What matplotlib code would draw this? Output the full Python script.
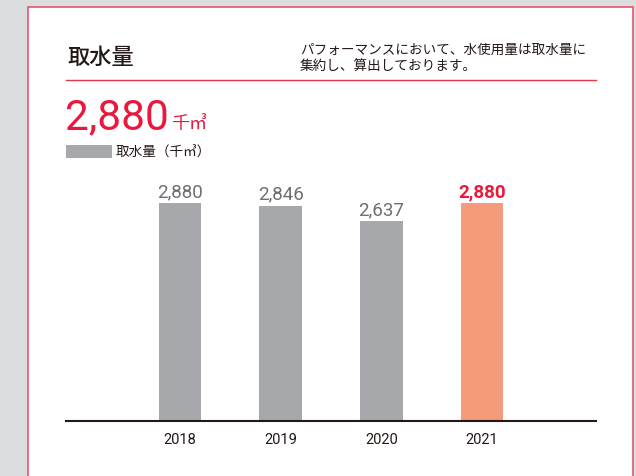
import matplotlib.pyplot as plt
from matplotlib.patches import Rectangle
from matplotlib.lines import Line2D

# data
years = ['2018', '2019', '2020', '2021']
intake = [2880, 2846, 2637, 2880]
headline = '2,880'
unit = '千㎥'
title = '取水量'
note = 'パフォーマンスにおいて、水使用量は取水量に\n集約し、算出しております。'
legend_label = '取水量（千㎥）'

jp = ['Noto Sans CJK JP', 'DejaVu Sans']
num = ['Roboto', 'DejaVu Sans']
red = '#e8193c'
gray_bar = '#a7a8ac'
orange_bar = '#f59a7a'
dark = '#231815'

W, H = 636, 477
fig = plt.figure(figsize=(W / 100, H / 100), dpi=100)
fig.patch.set_facecolor('#dcdddf')


def px(x, y):
    return x / W, 1 - y / H


# white card with pink border
fig.add_artist(Rectangle(px(28, 490), (633 - 28) / W, (490 - 8) / H,
                         transform=fig.transFigure, facecolor='white',
                         edgecolor='#e8566e', lw=1.2, zorder=0))

# header
fig.text(*px(67, 57), title, family=jp, fontsize=16, fontweight='medium',
         color=dark, va='center', ha='left')
fig.text(*px(300, 58), note, family=jp, fontsize=9.8, color=dark,
         va='center', ha='left', linespacing=1.25)
fig.add_artist(Line2D([66 / W, 596 / W], [1 - 81 / H] * 2,
                      transform=fig.transFigure, color='#e0364f', lw=1))

# headline figure
fig.text(*px(65, 129), headline, family=num, fontsize=30.5, color=red,
         va='baseline', ha='left')
fig.text(*px(171, 129), unit, family=jp, fontsize=13, color=red,
         va='baseline', ha='left')

# legend
fig.add_artist(Rectangle(px(66, 159), 46 / W, 13 / H,
                         transform=fig.transFigure, facecolor=gray_bar,
                         edgecolor='none'))
fig.text(*px(116, 153), legend_label, family=jp, fontsize=9.8, color=dark,
         va='center', ha='left')

# bar chart
ax = fig.add_axes([66 / W, (H - 422) / H, (596 - 66) / W, (422 - 160) / H])
ax.set_facecolor('none')
x = range(len(years))
colors = [gray_bar] * (len(years) - 1) + [orange_bar]
ax.bar(x, intake, width=0.42, color=colors, zorder=1)

for i, v in enumerate(intake):
    last = i == len(intake) - 1
    ax.annotate(f'{v:,}', (i, v), xytext=(0, 5), textcoords='offset points',
                ha='center', va='baseline', family=num, fontsize=13.5,
                color=red if last else '#6d6e71',
                fontweight='bold' if last else 'normal')

ax.set_xlim(-1.13, 4.13)
ax.set_ylim(0, 2880 * 262 / 218)
ax.set_xticks(list(x))
ax.set_xticklabels(years, family=num, fontsize=10.5, color=dark)
ax.tick_params(axis='x', length=0, pad=8)
ax.set_yticks([])
for s in ['left', 'right', 'top']:
    ax.spines[s].set_visible(False)
ax.spines['bottom'].set_color(dark)
ax.spines['bottom'].set_linewidth(1.5)
ax.spines['bottom'].set_zorder(3)

fig.savefig('out.png', dpi=100, facecolor=fig.get_facecolor())
